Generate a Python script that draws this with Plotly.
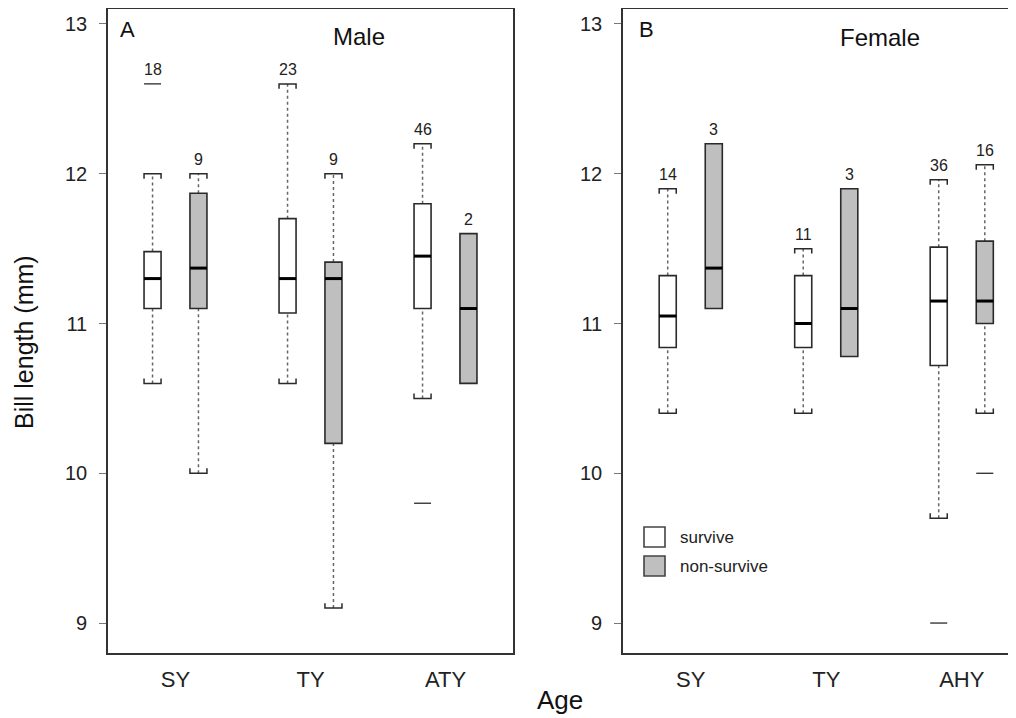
import plotly.graph_objects as go

# ---------------- data ----------------
male_categories = ["SY", "TY", "ATY"]
female_categories = ["SY", "TY", "AHY"]

# Male, survive
male_surv_q1 = [11.10, 11.07, 11.10]
male_surv_med = [11.30, 11.30, 11.45]
male_surv_q3 = [11.48, 11.70, 11.80]
male_surv_lo = [10.60, 10.60, 10.50]
male_surv_hi = [12.00, 12.60, 12.20]
male_surv_out = [[12.60], [], [9.80]]
male_surv_n = [18, 23, 46]

# Male, non-survive
male_non_q1 = [11.10, 10.20, 10.60]
male_non_med = [11.37, 11.30, 11.10]
male_non_q3 = [11.87, 11.41, 11.60]
male_non_lo = [10.00, 9.10, None]
male_non_hi = [12.00, 12.00, None]
male_non_out = [[], [], []]
male_non_n = [9, 9, 2]

# Female, survive
female_surv_q1 = [10.84, 10.84, 10.72]
female_surv_med = [11.05, 11.00, 11.15]
female_surv_q3 = [11.32, 11.32, 11.51]
female_surv_lo = [10.40, 10.40, 9.70]
female_surv_hi = [11.90, 11.50, 11.96]
female_surv_out = [[], [], [9.00]]
female_surv_n = [14, 11, 36]

# Female, non-survive
female_non_q1 = [11.10, 10.78, 11.00]
female_non_med = [11.37, 11.10, 11.15]
female_non_q3 = [12.20, 11.90, 11.55]
female_non_lo = [None, None, 10.40]
female_non_hi = [None, None, 12.06]
female_non_out = [[], [], [10.00]]
female_non_n = [3, 3, 16]

y_ticks = [9, 10, 11, 12, 13]

# ---------------- styling ----------------
FONT = "Liberation Sans, Arial, Helvetica, sans-serif"
OFF = 8                      # page body margin of the html page
W, H = 1016 - OFF, 718 - OFF
OFFSET = 0.17      # offset of each box from category centre (x units)
HALF = 0.063       # half width of a box (x units)
CAP_D = 0.033      # bracket tick length (y units)
EDGE = "#2a2a2a"
GREY_FILL = "#bfbfbf"

fig = go.Figure()
shapes = []
annotations = []


def add_group(xref, yref, q1, med, q3, lo, hi, outs, ns, side, fill):
    for i in range(len(q1)):
        xc = (i + 1) + side * OFFSET
        x0, x1 = xc - HALF, xc + HALF
        top = q3[i]
        if hi[i] is not None:
            shapes.append(dict(type="line", xref=xref, yref=yref, x0=xc, x1=xc, y0=q3[i], y1=hi[i],
                               line=dict(color="#666666", width=1.5, dash="dot")))
            shapes.append(dict(type="path", xref=xref, yref=yref,
                               path=f"M {x0} {hi[i]-CAP_D} L {x0} {hi[i]} L {x1} {hi[i]} L {x1} {hi[i]-CAP_D}",
                               line=dict(color=EDGE, width=1.5)))
            top = max(top, hi[i])
        if lo[i] is not None:
            shapes.append(dict(type="line", xref=xref, yref=yref, x0=xc, x1=xc, y0=lo[i], y1=q1[i],
                               line=dict(color="#666666", width=1.5, dash="dot")))
            shapes.append(dict(type="path", xref=xref, yref=yref,
                               path=f"M {x0} {lo[i]+CAP_D} L {x0} {lo[i]} L {x1} {lo[i]} L {x1} {lo[i]+CAP_D}",
                               line=dict(color=EDGE, width=1.5)))
        shapes.append(dict(type="rect", xref=xref, yref=yref, x0=x0, x1=x1, y0=q1[i], y1=q3[i],
                           fillcolor=fill, line=dict(color=EDGE, width=1.6)))
        shapes.append(dict(type="line", xref=xref, yref=yref, x0=x0, x1=x1, y0=med[i], y1=med[i],
                           line=dict(color="#000000", width=3)))
        for o in outs[i]:
            shapes.append(dict(type="line", xref=xref, yref=yref, x0=x0, x1=x1, y0=o, y1=o,
                               line=dict(color=EDGE, width=1.3)))
            top = max(top, o)
        annotations.append(dict(xref=xref, yref=yref, x=xc, y=top, text=str(ns[i]), showarrow=False,
                                yanchor="bottom", yshift=4,
                                font=dict(family=FONT, size=16, color="#222222")))


add_group("x", "y", male_surv_q1, male_surv_med, male_surv_q3, male_surv_lo, male_surv_hi,
          male_surv_out, male_surv_n, -1, "#ffffff")
add_group("x", "y", male_non_q1, male_non_med, male_non_q3, male_non_lo, male_non_hi,
          male_non_out, male_non_n, +1, GREY_FILL)
add_group("x2", "y2", female_surv_q1, female_surv_med, female_surv_q3, female_surv_lo, female_surv_hi,
          female_surv_out, female_surv_n, -1, "#ffffff")
add_group("x2", "y2", female_non_q1, female_non_med, female_non_q3, female_non_lo, female_non_hi,
          female_non_out, female_non_n, +1, GREY_FILL)

fig.add_trace(go.Scatter(x=[1, 2, 3], y=[11, 11, 11], xaxis="x", yaxis="y", mode="markers",
                         marker=dict(opacity=0), showlegend=False, hoverinfo="skip"))
fig.add_trace(go.Scatter(x=[1, 2, 3], y=[11, 11, 11], xaxis="x2", yaxis="y2", mode="markers",
                         marker=dict(opacity=0), showlegend=False, hoverinfo="skip"))


def px_x(p):
    return (p - OFF) / W


def px_y(p):
    return 1 - (p - OFF) / H


annotations += [
    dict(xref="paper", yref="paper", x=px_x(118), y=px_y(30), text="A", showarrow=False,
         xanchor="left", yanchor="middle", font=dict(family=FONT, size=22, color="#111")),
    dict(xref="paper", yref="paper", x=px_x(359), y=px_y(37), text="Male", showarrow=False,
         xanchor="center", yanchor="middle", font=dict(family=FONT, size=24, color="#111")),
    dict(xref="paper", yref="paper", x=px_x(637), y=px_y(30), text="B", showarrow=False,
         xanchor="left", yanchor="middle", font=dict(family=FONT, size=22, color="#111")),
    dict(xref="paper", yref="paper", x=px_x(880), y=px_y(38), text="Female", showarrow=False,
         xanchor="center", yanchor="middle", font=dict(family=FONT, size=24, color="#111")),
    dict(xref="paper", yref="paper", x=px_x(560), y=px_y(700), text="Age", showarrow=False,
         xanchor="center", yanchor="middle", font=dict(family=FONT, size=26, color="#111")),
    dict(xref="paper", yref="paper", x=px_x(24), y=px_y(342), text="Bill length (mm)", showarrow=False,
         textangle=-90, xanchor="center", yanchor="middle", font=dict(family=FONT, size=25, color="#111")),
    dict(xref="paper", yref="paper", x=px_x(678), y=px_y(537), text="survive", showarrow=False,
         xanchor="left", yanchor="middle", font=dict(family=FONT, size=17, color="#222")),
    dict(xref="paper", yref="paper", x=px_x(678), y=px_y(566), text="non-survive", showarrow=False,
         xanchor="left", yanchor="middle", font=dict(family=FONT, size=17, color="#222")),
]

shapes += [
    dict(type="rect", xref="paper", yref="paper", x0=px_x(644), x1=px_x(665), y0=px_y(547), y1=px_y(527),
         fillcolor="#ffffff", line=dict(color="#444", width=1.6)),
    dict(type="rect", xref="paper", yref="paper", x0=px_x(644), x1=px_x(665), y0=px_y(576), y1=px_y(556),
         fillcolor=GREY_FILL, line=dict(color="#444", width=1.6)),
]

ydom = [px_y(653), px_y(9)]
common_y = dict(range=[8.8, 13.1], tickvals=y_ticks, ticktext=[str(v) for v in y_ticks],
                ticks="outside", ticklen=7, tickwidth=1, tickcolor="#777777",
                showgrid=False, zeroline=False, showline=True, linecolor="#333333", linewidth=1.6,
                tickfont=dict(family=FONT, size=20, color="#222222"), automargin=False,
                ticklabelstandoff=8, domain=ydom)
common_x = dict(tickvals=[1, 2, 3], ticks="", showgrid=False, zeroline=False, showline=True,
                linecolor="#333333", linewidth=1.6, mirror=True,
                tickfont=dict(family=FONT, size=22, color="#222222"), automargin=False,
                ticklabelstandoff=6)

fig.update_layout(
    width=W, height=H,
    margin=dict(l=0, r=0, t=0, b=0),
    paper_bgcolor="white", plot_bgcolor="white",
    showlegend=False,
    xaxis=dict(common_x, range=[0.5, 3.5], ticktext=male_categories,
               domain=[px_x(108), px_x(513)], anchor="y"),
    yaxis=dict(common_y, anchor="x", mirror=True),
    xaxis2=dict(common_x, range=[0.5, 0.5 + (1016 - 623) / 135.5], ticktext=female_categories,
                domain=[px_x(623), 1.0], anchor="y2"),
    yaxis2=dict(common_y, anchor="x2", mirror=False),
    shapes=shapes,
    annotations=annotations,
)

fig.write_html("out.html")
